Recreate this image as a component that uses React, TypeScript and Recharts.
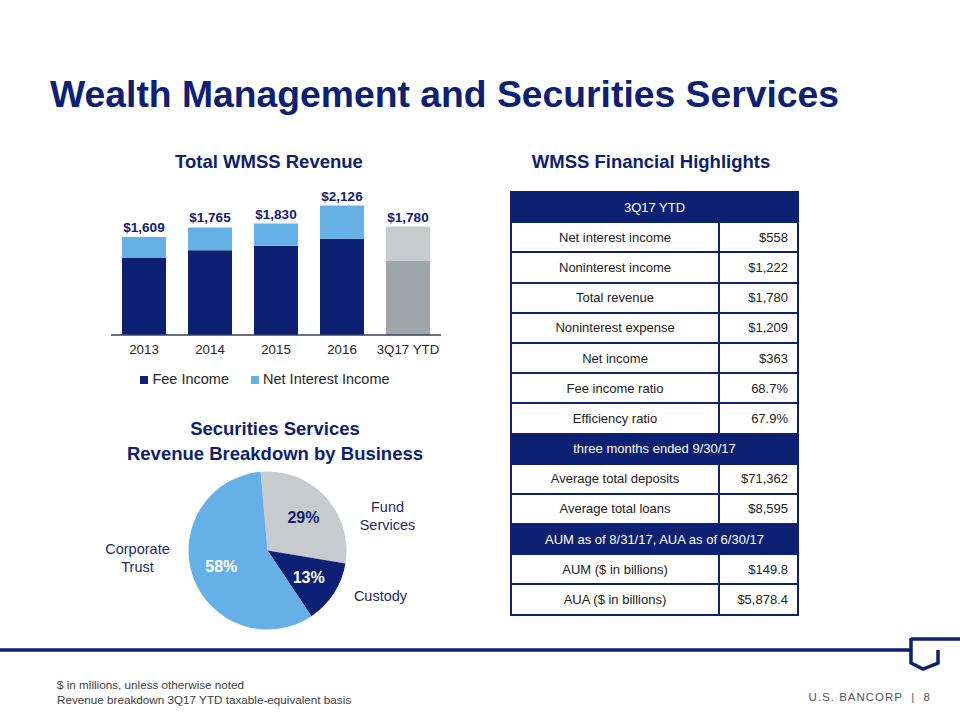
import React from 'react';
import { BarChart, Bar, XAxis, YAxis, LabelList, Legend, Cell, PieChart, Pie } from 'recharts';

const years = ['2013', '2014', '2015', '2016', '3Q17 YTD'];
const feeIncome = [1266, 1391, 1465, 1581, 1222];
const netInterestIncome = [343, 374, 365, 545, 558];
const revenueTotals = [1609, 1765, 1830, 2126, 1780];

const businesses = ['Fund Services', 'Custody', 'Corporate Trust'];
const businessShares = [29, 13, 58];

const ytdRows = [
  ['Net interest income', '$558'],
  ['Noninterest income', '$1,222'],
  ['Total revenue', '$1,780'],
  ['Noninterest expense', '$1,209'],
  ['Net income', '$363'],
  ['Fee income ratio', '68.7%'],
  ['Efficiency ratio', '67.9%'],
];
const quarterRows = [
  ['Average total deposits', '$71,362'],
  ['Average total loans', '$8,595'],
];
const assetRows = [
  ['AUM ($ in billions)', '$149.8'],
  ['AUA ($ in billions)', '$5,878.4'],
];

const NAVY = '#0c2074';
const LIGHT_BLUE = '#66b0e8';
const GRAY_DARK = '#9ea6a9';
const GRAY_LIGHT = '#c8cbce';
const FONT = '"Liberation Sans", Arial, sans-serif';

const revenueData = years.map((year, i) => ({
  year,
  fee: feeIncome[i],
  nii: netInterestIncome[i],
  total: revenueTotals[i],
}));

const pieData = businesses.map((name, i) => ({ name, value: businessShares[i] }));
const pieColors = [GRAY_LIGHT, NAVY, LIGHT_BLUE];
const pctColors = [NAVY, '#ffffff', '#ffffff'];

const RAD = Math.PI / 180;

// where the business names sit, relative to the pie centre
const nameSpots = [
  { dx: 120, dy: -34 },
  { dx: 113, dy: 45 },
  { dx: -130, dy: 8 },
];

const renderPieLabel = (props: any) => {
  const { cx, cy, midAngle, outerRadius, index, name, value } = props;
  const r = outerRadius * 0.62;
  const x = cx + r * Math.cos(-midAngle * RAD);
  const y = cy + r * Math.sin(-midAngle * RAD);
  const spot = nameSpots[index];
  const words = String(name).split(' ');
  return (
    <g>
      <text x={x} y={y} textAnchor="middle" dominantBaseline="central" fill={pctColors[index]}
        fontSize={16} fontWeight="bold" fontFamily={FONT}>
        {value}%
      </text>
      <text x={cx + spot.dx} y={cy + spot.dy} textAnchor="middle" fill="#1c2a66" fontSize={14.5} fontFamily={FONT}>
        {words.length > 1 ? (
          <>
            <tspan x={cx + spot.dx} dy="-0.3em">{words[0]}</tspan>
            <tspan x={cx + spot.dx} dy="1.25em">{words.slice(1).join(' ')}</tspan>
          </>
        ) : (
          <tspan x={cx + spot.dx} dy="0.35em">{name}</tspan>
        )}
      </text>
    </g>
  );
};

const cellStyle: React.CSSProperties = {
  border: `2px solid ${NAVY}`,
  height: 28.2,
  padding: 0,
  fontSize: 13,
  color: '#222',
};

const Section = ({ title, rows }: { title: string; rows: string[][] }) => (
  <>
    <tr>
      <td colSpan={2} style={{ ...cellStyle, background: NAVY, color: '#fff', textAlign: 'center' }}>{title}</td>
    </tr>
    {rows.map(([label, val]) => (
      <tr key={label}>
        <td style={{ ...cellStyle, textAlign: 'center', width: 206 }}>{label}</td>
        <td style={{ ...cellStyle, textAlign: 'right', paddingRight: 9 }}>{val}</td>
      </tr>
    ))}
  </>
);

export default function App() {
  return (
    <div style={{ position: 'absolute', left: 0, top: 0, width: 960, height: 720, background: '#fff', fontFamily: FONT }}>
      <svg width={960} height={720} style={{ position: 'absolute', left: 0, top: 0 }}>
        <text x={50} y={107} fontSize={37.3} fontWeight="bold" fill={NAVY} fontFamily={FONT}>
          Wealth Management and Securities Services
        </text>
        <text x={269} y={168} textAnchor="middle" fontSize={18.5} fontWeight="bold" fill={NAVY} fontFamily={FONT}>
          Total WMSS Revenue
        </text>
        <text x={651} y={168} textAnchor="middle" fontSize={18.5} fontWeight="bold" fill={NAVY} fontFamily={FONT}>
          WMSS Financial Highlights
        </text>
        <text x={275} y={435} textAnchor="middle" fontSize={18.5} fontWeight="bold" fill={NAVY} fontFamily={FONT}>
          Securities Services
        </text>
        <text x={275} y={460} textAnchor="middle" fontSize={18.5} fontWeight="bold" fill={NAVY} fontFamily={FONT}>
          Revenue Breakdown by Business
        </text>
        <line x1={0} y1={650} x2={912} y2={650} stroke={NAVY} strokeWidth={3.5} />
        <path d="M911 639 L960 639 M911 638 L911 663 L923 669 L938 663 L938 650" fill="none" stroke={NAVY} strokeWidth={3.5} />
        <text x={57} y={689} fontSize={11.7} fill="#404040" fontFamily={FONT}>$ in millions, unless otherwise noted</text>
        <text x={57} y={704} fontSize={11.7} fill="#404040" fontFamily={FONT}>Revenue breakdown 3Q17 YTD taxable-equivalent basis</text>
        <text x={931} y={701} textAnchor="end" fontSize={11.5} fill="#555" letterSpacing={1} fontFamily={FONT}
          style={{ whiteSpace: 'pre' }}>
          {'U.S. BANCORP  |  8'}
        </text>
      </svg>

      <div style={{ position: 'absolute', left: 90, top: 180 }}>
        <BarChart width={370} height={222} data={revenueData} margin={{ top: 21, right: 19, bottom: 14, left: 21 }}>
          <XAxis dataKey="year" axisLine={{ stroke: '#34405e', strokeWidth: 1.5 }} tickLine={false} height={35}
            tickMargin={4} tick={{ fill: '#262626', fontSize: 13.3, fontFamily: FONT }} />
          <YAxis hide domain={[0, 2200]} />
          <Legend verticalAlign="bottom" iconType="square" iconSize={8}
            formatter={(v: string) => <span style={{ color: '#262626', fontSize: 14.5, marginRight: 12 }}>{v}</span>} />
          <Bar dataKey="fee" name="Fee Income" stackId="rev" fill={NAVY} barSize={44} isAnimationActive={false}>
            {revenueData.map((d, i) => <Cell key={d.year} fill={i === years.length - 1 ? GRAY_DARK : NAVY} />)}
          </Bar>
          <Bar dataKey="nii" name="Net Interest Income" stackId="rev" fill={LIGHT_BLUE} barSize={44} isAnimationActive={false}>
            {revenueData.map((d, i) => <Cell key={d.year} fill={i === years.length - 1 ? GRAY_LIGHT : LIGHT_BLUE} />)}
            <LabelList dataKey="total" position="top" offset={5} fill={NAVY} fontSize={13.5} fontWeight="bold"
              fontFamily={FONT} formatter={(v: number) => `$${v.toLocaleString('en-US')}`} />
          </Bar>
        </BarChart>
      </div>

      <div style={{ position: 'absolute', left: 90, top: 460 }}>
        <PieChart width={360} height={180} margin={{ top: 0, right: 0, bottom: 0, left: 0 }}>
          <Pie data={pieData} dataKey="value" nameKey="name" cx={177.5} cy={90.5} outerRadius={79}
            startAngle={95} endAngle={-265} stroke="none" labelLine={false} label={renderPieLabel}
            isAnimationActive={false}>
            {pieData.map((d, i) => <Cell key={d.name} fill={pieColors[i]} />)}
          </Pie>
        </PieChart>
      </div>

      <table style={{ position: 'absolute', left: 510, top: 191, width: 289, borderCollapse: 'collapse', fontFamily: FONT }}>
        <tbody>
          <Section title="3Q17 YTD" rows={ytdRows} />
          <Section title="three months ended 9/30/17" rows={quarterRows} />
          <Section title="AUM as of 8/31/17, AUA as of 6/30/17" rows={assetRows} />
        </tbody>
      </table>
    </div>
  );
}
